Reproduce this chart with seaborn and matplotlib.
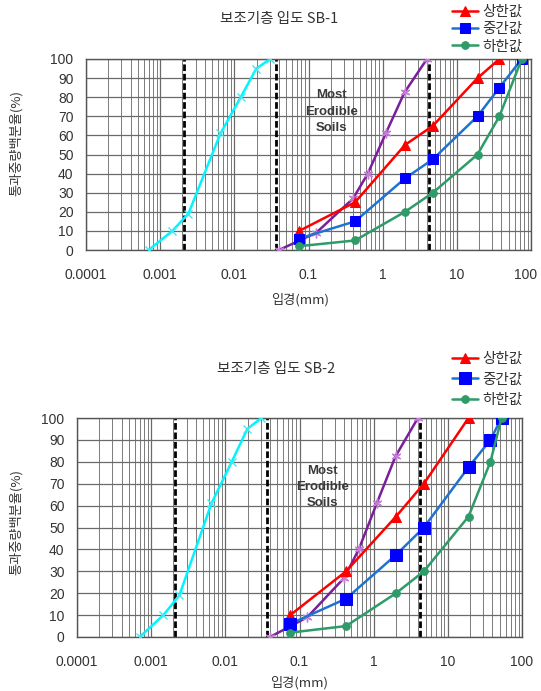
import numpy as np
import pandas as pd
import matplotlib
matplotlib.use("Agg")
import matplotlib.pyplot as plt
import matplotlib.transforms as mtransforms
import seaborn as sns
from matplotlib.ticker import LogLocator, NullFormatter, FixedLocator, FixedFormatter

sns.set_style("white")
plt.rcParams["font.family"] = ["Liberation Sans", "Noto Sans CJK KR", "DejaVu Sans"]
KR = ["Noto Sans CJK KR", "DejaVu Sans"]

# ---------------- data ----------------
titles = ["보조기층 입도 SB-1", "보조기층 입도 SB-2"]
series_labels = ["상한값", "중간값", "하한값"]
x_label = "입경(mm)"
y_label = "통과중량백분율(%)"
x_ticks = [0.0001, 0.001, 0.01, 0.1, 1, 10, 100]
x_tick_labels = ["0.0001", "0.001", "0.01", "0.1", "1", "10", "100"]
y_ticks = [0, 10, 20, 30, 40, 50, 60, 70, 80, 90, 100]

# SB-1
sb1_upper_x = [0.075, 0.425, 2, 4.75, 19, 37.5]
sb1_upper_y = [10, 25, 55, 65, 90, 100]
sb1_mid_x = [0.075, 0.425, 2, 4.75, 19, 37.5, 75]
sb1_mid_y = [6, 15, 37.5, 47.5, 70, 85, 100]
sb1_low_x = [0.075, 0.425, 2, 4.75, 19, 37.5, 75]
sb1_low_y = [2, 5, 20, 30, 50, 70, 100]

# SB-2
sb2_upper_x = [0.075, 0.425, 2, 4.75, 19]
sb2_upper_y = [10, 30, 55, 70, 100]
sb2_mid_x = [0.075, 0.425, 2, 4.75, 19, 37.5, 53]
sb2_mid_y = [6, 17.5, 37.5, 50, 77.5, 90, 100]
sb2_low_x = [0.075, 0.425, 2, 4.75, 19, 37.5, 53]
sb2_low_y = [2, 5, 20, 30, 55, 80, 100]

# erodibility envelope curves (same on both charts)
fine_x = [0.0007, 0.00146, 0.0024, 0.0065, 0.0122, 0.0198, 0.0305]
fine_y = [0, 10, 19, 61, 80, 95, 100]
coarse_x = [0.04, 0.127, 0.40, 0.63, 1.1, 1.97, 3.95]
coarse_y = [0, 9, 27, 40, 61, 82.5, 100]

dashed_x = [0.0021, 0.037, 4.25]
note_text = "Most\nErodible\nSoils"
note_pos = [(0.205, 72.5), (0.202, 68.5)]

W, H = 541, 691
fig = plt.figure(figsize=(W / 100, H / 100), dpi=100)

ax_rects = [
    [86 / W, 1 - 250 / H, 445 / W, 191 / H],
    [77 / W, 1 - 637 / H, 445 / W, 219 / H],
]
charts = [
    dict(up=(sb1_upper_x, sb1_upper_y), mid=(sb1_mid_x, sb1_mid_y), low=(sb1_low_x, sb1_low_y),
         msz=(6.5, 6.5, 5.5), title_xy=(279 / W, 1 - 19 / H), xl_xy=(300 / W, 1 - 300 / H),
         yl_xy=(16 / W, 1 - 143 / H), leg_xy=(452 / W, 1 - 5 / H), leg_sp=0.22),
    dict(up=(sb2_upper_x, sb2_upper_y), mid=(sb2_mid_x, sb2_mid_y), low=(sb2_low_x, sb2_low_y),
         msz=(7, 8, 5.5), title_xy=(276 / W, 1 - 369 / H), xl_xy=(299 / W, 1 - 683 / H),
         yl_xy=(16 / W, 1 - 522 / H), leg_xy=(452 / W, 1 - 352 / H), leg_sp=0.45),
]

red = "#FF0000"
blue_line = "#1E73D2"
blue_mark = "#0000FF"
green = "#2E9B68"
purple = "#7A1E9C"
purple_m = "#C47ED6"
cyan = "#00F5FF"
grid_c = "#6a6a6a"
text_c = "#333333"

for i, (rect, ch, title, note) in enumerate(zip(ax_rects, charts, titles, note_pos)):
    ax = fig.add_axes(rect)
    ax.set_xscale("log")

    for xv in dashed_x:
        ax.axvline(xv, color="black", lw=2.0, ls=(0, (2.4, 1.0)), zorder=2)

    sns.lineplot(x=fine_x, y=fine_y, ax=ax, color=cyan, lw=1.8, marker="x",
                 markersize=6, markeredgecolor="#40E8F0", markeredgewidth=1.0,
                 legend=False, zorder=3)
    sns.lineplot(x=coarse_x, y=coarse_y, ax=ax, color=purple, lw=1.8, marker=(6, 2, 0),
                 markersize=7, markeredgecolor=purple_m, markeredgewidth=1.0,
                 legend=False, zorder=3)
    sns.lineplot(x=ch["up"][0], y=ch["up"][1], ax=ax, color=red, lw=1.8, marker="^",
                 markersize=ch["msz"][0], markeredgecolor=red, markerfacecolor=red,
                 label=series_labels[0], legend=False, zorder=4)
    sns.lineplot(x=ch["mid"][0], y=ch["mid"][1], ax=ax, color=blue_line, lw=1.8, marker="s",
                 markersize=ch["msz"][1], markeredgecolor=blue_mark, markerfacecolor=blue_mark,
                 label=series_labels[1], legend=False, zorder=4)
    sns.lineplot(x=ch["low"][0], y=ch["low"][1], ax=ax, color=green, lw=1.8, marker="o",
                 markersize=ch["msz"][2], markeredgecolor=green, markerfacecolor=green,
                 label=series_labels[2], legend=False, zorder=4)

    ax.set_xlim(x_ticks[0], x_ticks[-1])
    ax.set_ylim(y_ticks[0], y_ticks[-1])
    ax.xaxis.set_major_locator(FixedLocator(x_ticks))
    ax.xaxis.set_major_formatter(FixedFormatter(x_tick_labels))
    ax.xaxis.set_minor_locator(LogLocator(base=10, subs=np.arange(2, 10), numticks=100))
    ax.xaxis.set_minor_formatter(NullFormatter())
    ax.set_yticks(y_ticks)
    ax.set_axisbelow(True)
    ax.grid(which="major", axis="both", color=grid_c, lw=0.9)
    ax.grid(which="minor", axis="x", color="#7a7a7a", lw=0.7)
    ax.tick_params(axis="both", which="both", length=0, labelsize=10, colors=text_c)
    ax.tick_params(axis="x", pad=13)
    ax.tick_params(axis="y", pad=9)
    ax.set_xlabel("")
    ax.set_ylabel("")
    for sp in ax.spines.values():
        sp.set_visible(True)
        sp.set_color("#555555")
        sp.set_linewidth(1.0)

    if i == 0:
        # keep the last tick label inside the canvas
        last = ax.get_xticklabels()[-1]
        last.set_transform(last.get_transform() +
                           mtransforms.ScaledTranslation(-5 / 100, 0, fig.dpi_scale_trans))

    ax.text(note[0], note[1], note_text, ha="center", va="center", fontsize=9.5,
            fontweight="bold", color="#3a3a3a", linespacing=1.45, zorder=5)

    fig.text(*ch["title_xy"], title, ha="center", va="center", fontsize=10.5,
             color=text_c, family=KR)
    fig.text(*ch["xl_xy"], x_label, ha="center", va="center", fontsize=9.5,
             color=text_c, family=KR)
    fig.text(*ch["yl_xy"], y_label, ha="center", va="center", fontsize=9.5,
             color=text_c, rotation=90, family=KR)

    handles, labels = ax.get_legend_handles_labels()
    fig.legend(handles, labels, loc="upper left", bbox_to_anchor=ch["leg_xy"],
               bbox_transform=fig.transFigure, frameon=False, borderpad=0,
               borderaxespad=0, handlelength=1.75, handletextpad=0.35,
               labelspacing=ch["leg_sp"], numpoints=1,
               prop={"family": KR, "size": 10.5}, labelcolor=text_c)

fig.savefig("out.png", dpi=100)
